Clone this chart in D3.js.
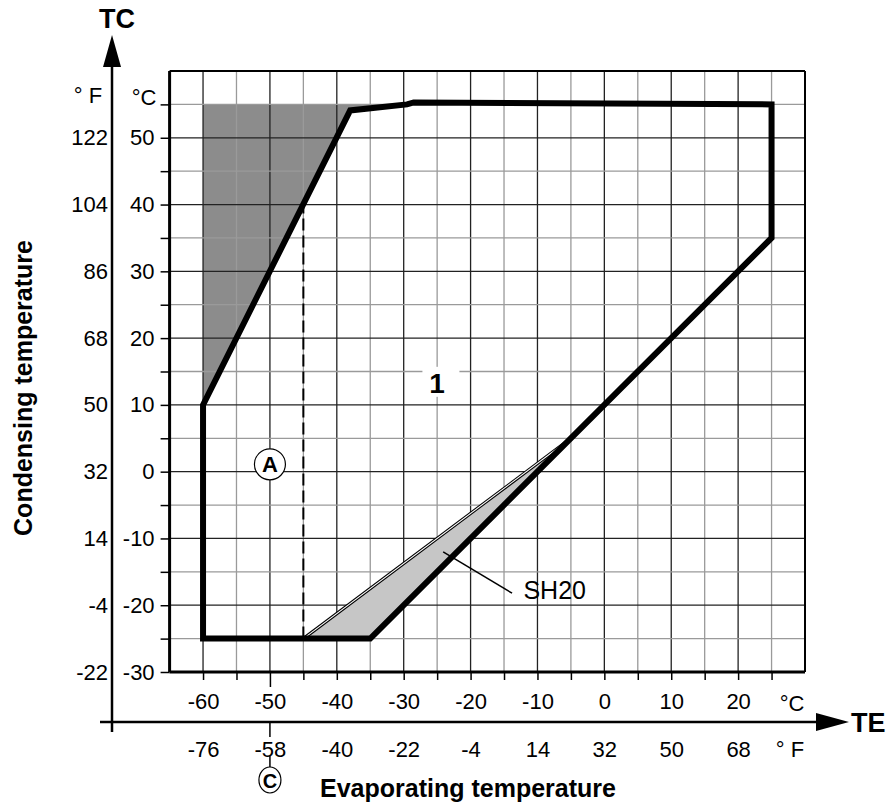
<!DOCTYPE html>
<html>
<head>
<meta charset="utf-8">
<script src="https://cdn.jsdelivr.net/npm/d3@7"></script>
<style>
  body { margin: 0; background: #fff; }
  text { font-family: "Liberation Sans", Arial, Helvetica, sans-serif; }
</style>
</head>
<body>
<div id="chart"></div>
<script>
// operating envelope, TE / TC in degrees C
const envelope = [[-60, -25], [-60, 10], [-38, 54.1], [-29.5, 55], [-28.5, 55.3], [25, 55], [25, 35], [-35, -25]];
const darkZone = [[-60, 55], [-60, 10], [-38, 54.1], [-29.5, 55]];
const sh20Zone = [[-45, -25], [-35, -25], [-5, 5]];
const sh20Edge = [[-45, -25], [-5, 5]];
const dashedLine = [[-45, -25], [-45, 40]];

// ticks
const tcTicksC = [-30, -25, -20, -15, -10, -5, 0, 5, 10, 15, 20, 25, 30, 35, 40, 45, 50, 55];
const tcLabelC = [-30, -20, -10, 0, 10, 20, 30, 40, 50];
const tcLabelF = [-22, -4, 14, 32, 50, 68, 86, 104, 122];
const teTicksC = [-60, -55, -50, -45, -40, -35, -30, -25, -20, -15, -10, -5, 0, 5, 10, 15, 20, 25];
const teLabelC = [-60, -50, -40, -30, -20, -10, 0, 10, 20];
const teLabelF = [-76, -58, -40, -22, -4, 14, 32, 50, 68];

const width = 896;
const height = 811;

const x = d3.scaleLinear().domain([-65, 30]).range([169.6, 805]);
const y = d3.scaleLinear().domain([-30, 60]).range([672, 71]);

const svg = d3.select('#chart')
  .append('svg')
    .attr('width', width)
    .attr('height', height);

svg.append('rect').attr('width', width).attr('height', height).attr('fill', '#fff');

const line = d3.line().x(d => x(d[0])).y(d => y(d[1]));

// dark shaded area sits under the grid
svg.append('path')
  .attr('d', line(darkZone) + 'Z')
  .attr('fill', '#8c8c8c');

// grid
const grid = svg.append('g');
grid.selectAll('.vl')
  .data(d3.range(-60, 30, 5))
  .enter().append('line')
    .attr('x1', d => x(d)).attr('x2', d => x(d))
    .attr('y1', y(-30)).attr('y2', y(60))
    .attr('stroke', d => d % 10 === 0 ? '#222' : '#9a9a9a')
    .attr('stroke-width', 1.3);
grid.selectAll('.hl')
  .data(d3.range(-25, 60, 5))
  .enter().append('line')
    .attr('x1', x(-65)).attr('x2', x(30))
    .attr('y1', d => y(d)).attr('y2', d => y(d))
    .attr('stroke', d => d % 10 === 0 ? '#222' : '#9a9a9a')
    .attr('stroke-width', 1.3);

// frame
svg.append('line').attr('x1', x(-65)).attr('x2', x(30)).attr('y1', y(60)).attr('y2', y(60))
  .attr('stroke', '#000').attr('stroke-width', 2);
svg.append('line').attr('x1', x(30)).attr('x2', x(30)).attr('y1', y(60)).attr('y2', y(-30))
  .attr('stroke', '#000').attr('stroke-width', 2);

// SH20 light zone
svg.append('path')
  .attr('d', line(sh20Zone) + 'Z')
  .attr('fill', '#c6c6c6');
svg.append('path')
  .attr('d', line(sh20Edge))
  .attr('stroke', '#000').attr('stroke-width', 3.2).attr('fill', 'none');
svg.append('path')
  .attr('d', line(sh20Edge))
  .attr('stroke', '#fff').attr('stroke-width', 1.1).attr('fill', 'none');

// dashed limit
svg.append('path')
  .attr('d', line(dashedLine))
  .attr('stroke', '#000').attr('stroke-width', 2)
  .attr('stroke-dasharray', '12,5').attr('fill', 'none');

// envelope
svg.append('path')
  .attr('d', line(envelope) + 'Z')
  .attr('fill', 'none')
  .attr('stroke', '#000')
  .attr('stroke-width', 6)
  .attr('stroke-linejoin', 'miter');

// left axis (C)
const axisC = d3.axisLeft(y)
  .tickValues(tcTicksC)
  .tickSize(9)
  .tickPadding(6)
  .tickFormat(d => tcLabelC.includes(d) ? d : '');
const gC = svg.append('g')
  .attr('transform', `translate(${x(-65)},0)`)
  .call(axisC);
gC.select('.domain').attr('stroke-width', 3).attr('d', `M0,${y(-30)}V${y(60)}`);
gC.selectAll('.tick line').attr('stroke-width', 1.5);
gC.selectAll('text').attr('font-size', 22).attr('font-family', null).attr('fill', '#000');

// left labels (F)
const axisF = d3.axisLeft(y)
  .tickValues(tcLabelC)
  .tickSize(0)
  .tickPadding(0)
  .tickFormat((d, i) => tcLabelF[i]);
const gF = svg.append('g')
  .attr('transform', 'translate(108,0)')
  .call(axisF);
gF.select('.domain').remove();
gF.selectAll('text').attr('font-size', 22).attr('font-family', null).attr('fill', '#000');

// bottom axis (C)
const axisTE = d3.axisBottom(x)
  .tickValues(teTicksC)
  .tickSize(8)
  .tickPadding(13)
  .tickFormat(d => teLabelC.includes(d) ? d : '');
const gTE = svg.append('g')
  .attr('transform', `translate(0,${y(-30)})`)
  .call(axisTE);
gTE.select('.domain').attr('stroke-width', 3).attr('d', `M${x(-65)},0H${x(30)}`);
gTE.selectAll('.tick line').attr('stroke-width', 1.5).attr('y2', d => d === -50 ? 15 : 8);
gTE.selectAll('text').attr('font-size', 22).attr('font-family', null).attr('fill', '#000');

// TE arrow axis
const teY = 722;
svg.append('line').attr('x1', 100).attr('x2', 820).attr('y1', teY).attr('y2', teY)
  .attr('stroke', '#000').attr('stroke-width', 2.5);
svg.append('path').attr('d', `M816,${teY - 9}L849,${teY}L816,${teY + 9}Z`).attr('fill', '#000');
svg.append('text').attr('x', 851).attr('y', teY + 10).attr('font-size', 27).attr('font-weight', 'bold').text('TE');

const axisTEF = d3.axisBottom(x)
  .tickValues(teLabelC)
  .tickSize(0)
  .tickPadding(19)
  .tickFormat((d, i) => teLabelF[i]);
const gTEF = svg.append('g')
  .attr('transform', `translate(0,${teY})`)
  .call(axisTEF);
gTEF.select('.domain').remove();
gTEF.selectAll('text').attr('font-size', 22).attr('font-family', null).attr('fill', '#000');

// TC arrow axis
const tcX = 112;
svg.append('line').attr('x1', tcX).attr('x2', tcX).attr('y1', 732).attr('y2', 60)
  .attr('stroke', '#000').attr('stroke-width', 2.5);
svg.append('path').attr('d', `M${tcX - 9},67L${tcX},35L${tcX + 9},67Z`).attr('fill', '#000');
svg.append('text').attr('x', 117).attr('y', 28).attr('text-anchor', 'middle')
  .attr('font-size', 27).attr('font-weight', 'bold').text('TC');

// unit labels
svg.append('text').attr('x', 88).attr('y', 103).attr('text-anchor', 'middle').attr('font-size', 22).text('° F');
svg.append('text').attr('x', 144).attr('y', 105).attr('text-anchor', 'middle').attr('font-size', 22).text('°C');
svg.append('text').attr('x', 792).attr('y', 711).attr('text-anchor', 'middle').attr('font-size', 22).text('°C');
svg.append('text').attr('x', 790).attr('y', 757).attr('text-anchor', 'middle').attr('font-size', 22).text('° F');

// axis titles
svg.append('text')
  .attr('transform', 'translate(32,388) rotate(-90)')
  .attr('text-anchor', 'middle')
  .attr('font-size', 25).attr('font-weight', 'bold')
  .text('Condensing temperature');
svg.append('text')
  .attr('x', 468).attr('y', 797)
  .attr('text-anchor', 'middle')
  .attr('font-size', 25).attr('font-weight', 'bold')
  .text('Evaporating temperature');

// marker C below -58 F
svg.append('line').attr('x1', x(-50)).attr('x2', x(-50)).attr('y1', teY).attr('y2', 737)
  .attr('stroke', '#000').attr('stroke-width', 1.5);
svg.append('line').attr('x1', x(-50)).attr('x2', x(-50)).attr('y1', 756).attr('y2', 767)
  .attr('stroke', '#000').attr('stroke-width', 1.5);
svg.append('ellipse').attr('cx', x(-50)).attr('cy', 780).attr('rx', 11).attr('ry', 13)
  .attr('fill', '#fff').attr('stroke', '#000').attr('stroke-width', 1.2);
svg.append('text').attr('x', x(-50)).attr('y', 787.5).attr('text-anchor', 'middle')
  .attr('font-size', 20).attr('font-weight', 'bold').text('C');

// marker A
svg.append('circle').attr('cx', x(-50)).attr('cy', y(1.1)).attr('r', 15.5)
  .attr('fill', '#fff').attr('stroke', '#000').attr('stroke-width', 1.2);
svg.append('text').attr('x', x(-50)).attr('y', y(1.1) + 8).attr('text-anchor', 'middle')
  .attr('font-size', 22).attr('font-weight', 'bold').text('A');

// zone 1 label
svg.append('rect').attr('x', x(-27.2)).attr('y', y(15.7)).attr('width', 37).attr('height', 30).attr('fill', '#fff');
svg.append('text').attr('x', x(-25)).attr('y', y(13.3) + 10).attr('text-anchor', 'middle')
  .attr('font-size', 28).attr('font-weight', 'bold').text('1');

// SH20 leader
svg.append('line')
  .attr('x1', x(-24.1)).attr('y1', y(-12))
  .attr('x2', x(-13.8)).attr('y2', y(-18.2))
  .attr('stroke', '#000').attr('stroke-width', 1.5);
svg.append('text').attr('x', x(-12.1)).attr('y', y(-17.7) + 9)
  .attr('font-size', 25).text('SH20');
</script>
</body>
</html>
